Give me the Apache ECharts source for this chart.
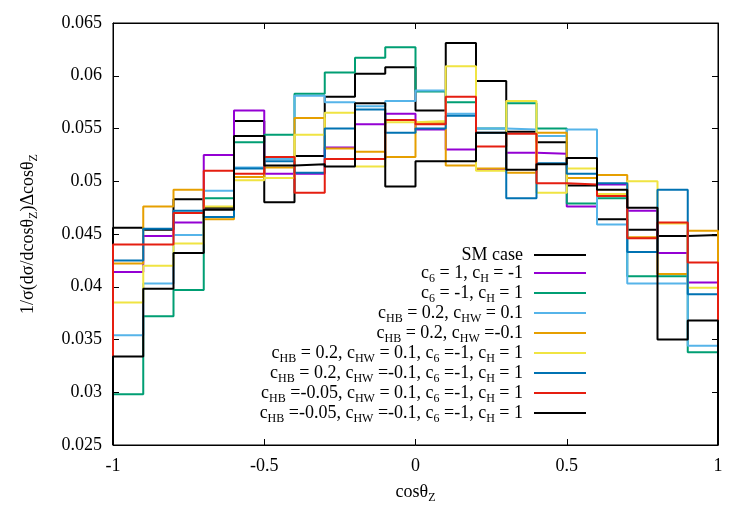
<!DOCTYPE html>
<html>
<head>
<meta charset="utf-8">
<script src="https://cdn.jsdelivr.net/npm/echarts@6/dist/echarts.min.js"></script>
</head>
<body style="margin:0">
<div id="main" style="width:750px;height:525px;"></div>
<script type="text/javascript">
// bin edges of cos(theta_Z), 20 bins
var binEdges = [-1, -0.9, -0.8, -0.7, -0.6, -0.5, -0.4, -0.3, -0.2, -0.1, 0,
                0.1, 0.2, 0.3, 0.4, 0.5, 0.6, 0.7, 0.8, 0.9, 1];

var smCase = [0.0456, 0.0454, 0.0483, 0.0475, 0.0557, 0.0480, 0.0524, 0.0580, 0.0602, 0.0608,
              0.0567, 0.0631, 0.0595, 0.0547, 0.0537, 0.0496, 0.0464, 0.0454, 0.0448, 0.0449];
var c6pos = [0.0414, 0.0448, 0.0461, 0.0525, 0.0567, 0.0507, 0.0507, 0.0532, 0.0554, 0.0564,
             0.0549, 0.0530, 0.0511, 0.0527, 0.0526, 0.0476, 0.0497, 0.0472, 0.0432, 0.0404];
var c6neg = [0.0298, 0.0372, 0.0397, 0.0484, 0.0537, 0.0544, 0.0583, 0.0603, 0.0617, 0.0627,
             0.0585, 0.0575, 0.0550, 0.0574, 0.0550, 0.0479, 0.0484, 0.0410, 0.0410, 0.0338];
var hbhwPos = [0.0354, 0.0403, 0.0449, 0.0491, 0.0513, 0.0521, 0.0581, 0.0575, 0.0571, 0.0576,
               0.0586, 0.0564, 0.0550, 0.0549, 0.0543, 0.0549, 0.0459, 0.0403, 0.0403, 0.0344];
var hbhwNeg = [0.0422, 0.0476, 0.0492, 0.0464, 0.0504, 0.0513, 0.0560, 0.0531, 0.0528, 0.0523,
               0.0555, 0.0515, 0.0512, 0.0508, 0.0546, 0.0503, 0.0506, 0.0447, 0.0412, 0.0453];
var mix1 = [0.0385, 0.0420, 0.0441, 0.0476, 0.0501, 0.0503, 0.0544, 0.0565, 0.0514, 0.0556,
            0.0557, 0.0609, 0.0510, 0.0576, 0.0489, 0.0512, 0.0488, 0.0500, 0.0460, 0.0399];
var mix2 = [0.0425, 0.0455, 0.0472, 0.0466, 0.0512, 0.0519, 0.0508, 0.0550, 0.0568, 0.0546,
            0.0550, 0.0562, 0.0546, 0.0484, 0.0517, 0.0507, 0.0498, 0.0433, 0.0492, 0.0393];
var mix3 = [0.0440, 0.0440, 0.0470, 0.0510, 0.0507, 0.0523, 0.0489, 0.0521, 0.0521, 0.0558,
            0.0554, 0.0580, 0.0533, 0.0545, 0.0498, 0.0497, 0.0486, 0.0446, 0.0461, 0.0423];
var mix4 = [0.0334, 0.0398, 0.0432, 0.0473, 0.0543, 0.0515, 0.0516, 0.0514, 0.0574, 0.0495,
            0.0519, 0.0519, 0.0546, 0.0511, 0.0516, 0.0522, 0.0492, 0.0475, 0.0350, 0.0368];

var names = [
    'SM case',
    'c{s|6} = 1, c{s|H} = -1',
    'c{s|6} = -1, c{s|H} = 1',
    'c{s|HB} = 0.2, c{s|HW} = 0.1',
    'c{s|HB} = 0.2, c{s|HW} =-0.1',
    'c{s|HB} = 0.2, c{s|HW} = 0.1, c{s|6} =-1, c{s|H} = 1',
    'c{s|HB} = 0.2, c{s|HW} =-0.1, c{s|6} =-1, c{s|H} = 1',
    'c{s|HB} =-0.05, c{s|HW} = 0.1, c{s|6} =-1, c{s|H} = 1',
    'c{s|HB} =-0.05, c{s|HW} =-0.1, c{s|6} =-1, c{s|H} = 1'
];
var values = [smCase, c6pos, c6neg, hbhwPos, hbhwNeg, mix1, mix2, mix3, mix4];
var colors = ['#000000', '#9400d3', '#009e73', '#56b4e9', '#e69f00',
              '#f0e442', '#0072b2', '#e51e10', '#000000'];

var yMin = 0.025, yMax = 0.065;
var font = '"Liberation Serif", "DejaVu Serif", serif';
var subStyle = { fontFamily: font, fontSize: 12, color: '#000', padding: [12, 0, 0, 0] };

// histogram steps: drop to the axis floor at both ends like gnuplot
function toSteps(vals) {
    var d = [[binEdges[0], yMin]];
    for (var i = 0; i < vals.length; i++) d.push([binEdges[i], vals[i]]);
    d.push([binEdges[binEdges.length - 1], vals[vals.length - 1]]);
    d.push([binEdges[binEdges.length - 1], yMin]);
    return d;
}

var myChart = echarts.init(document.getElementById('main'));

var series = values.map(function (v, i) {
    return {
        name: names[i],
        type: 'line',
        step: 'end',
        symbol: 'none',
        clip: true,
        data: toSteps(v),
        lineStyle: { color: colors[i], width: 2 },
        itemStyle: { color: colors[i] }
    };
});

var axisCommon = {
    axisLine: { show: true, onZero: false, lineStyle: { color: '#000', width: 1 } },
    axisTick: { show: true, inside: true, length: 6, lineStyle: { color: '#000' } },
    splitLine: { show: false }
};

var option = {
    animation: false,
    backgroundColor: '#fff',
    textStyle: { fontFamily: font },
    grid: { left: 113, right: 32, top: 23, bottom: 80, show: true, borderColor: '#000', borderWidth: 1,
            containLabel: false, outerBoundsMode: 'none' },
    legend: {
        data: names,
        orient: 'vertical',
        align: 'right',
        right: 159,
        top: 240,
        icon: 'rect',
        itemWidth: 52,
        itemHeight: 2,
        itemGap: -2,
        selectedMode: false,
        textStyle: { fontFamily: font, fontSize: 18, color: '#000', lineHeight: 20,
                     padding: [0, 6, 0, 0], rich: { s: subStyle } }
    },
    xAxis: [
        Object.assign({
            type: 'value', min: -1, max: 1, interval: 0.5, position: 'bottom',
            axisLabel: { fontFamily: font, fontSize: 18, color: '#000', margin: 12 },
            name: 'cosθ{s|Z}', nameLocation: 'middle', nameGap: 35,
            nameTextStyle: { fontFamily: font, fontSize: 18, color: '#000', rich: { s: subStyle } }
        }, axisCommon),
        Object.assign({
            type: 'value', min: -1, max: 1, interval: 0.5, position: 'top',
            axisLabel: { show: false }
        }, axisCommon)
    ],
    yAxis: [
        Object.assign({
            type: 'value', min: yMin, max: yMax, interval: 0.005, position: 'left',
            axisLabel: { fontFamily: font, fontSize: 18, color: '#000', margin: 11 },
            name: '1/σ(dσ/dcosθ{s|Z})Δcosθ{s|Z}', nameLocation: 'middle', nameGap: 73,
            nameRotate: 90,
            nameTextStyle: { fontFamily: font, fontSize: 18, color: '#000', rich: { s: subStyle } }
        }, axisCommon),
        Object.assign({
            type: 'value', min: yMin, max: yMax, interval: 0.005, position: 'right',
            axisLabel: { show: false }
        }, axisCommon)
    ],
    series: series
};

myChart.setOption(option);
</script>
</body>
</html>
